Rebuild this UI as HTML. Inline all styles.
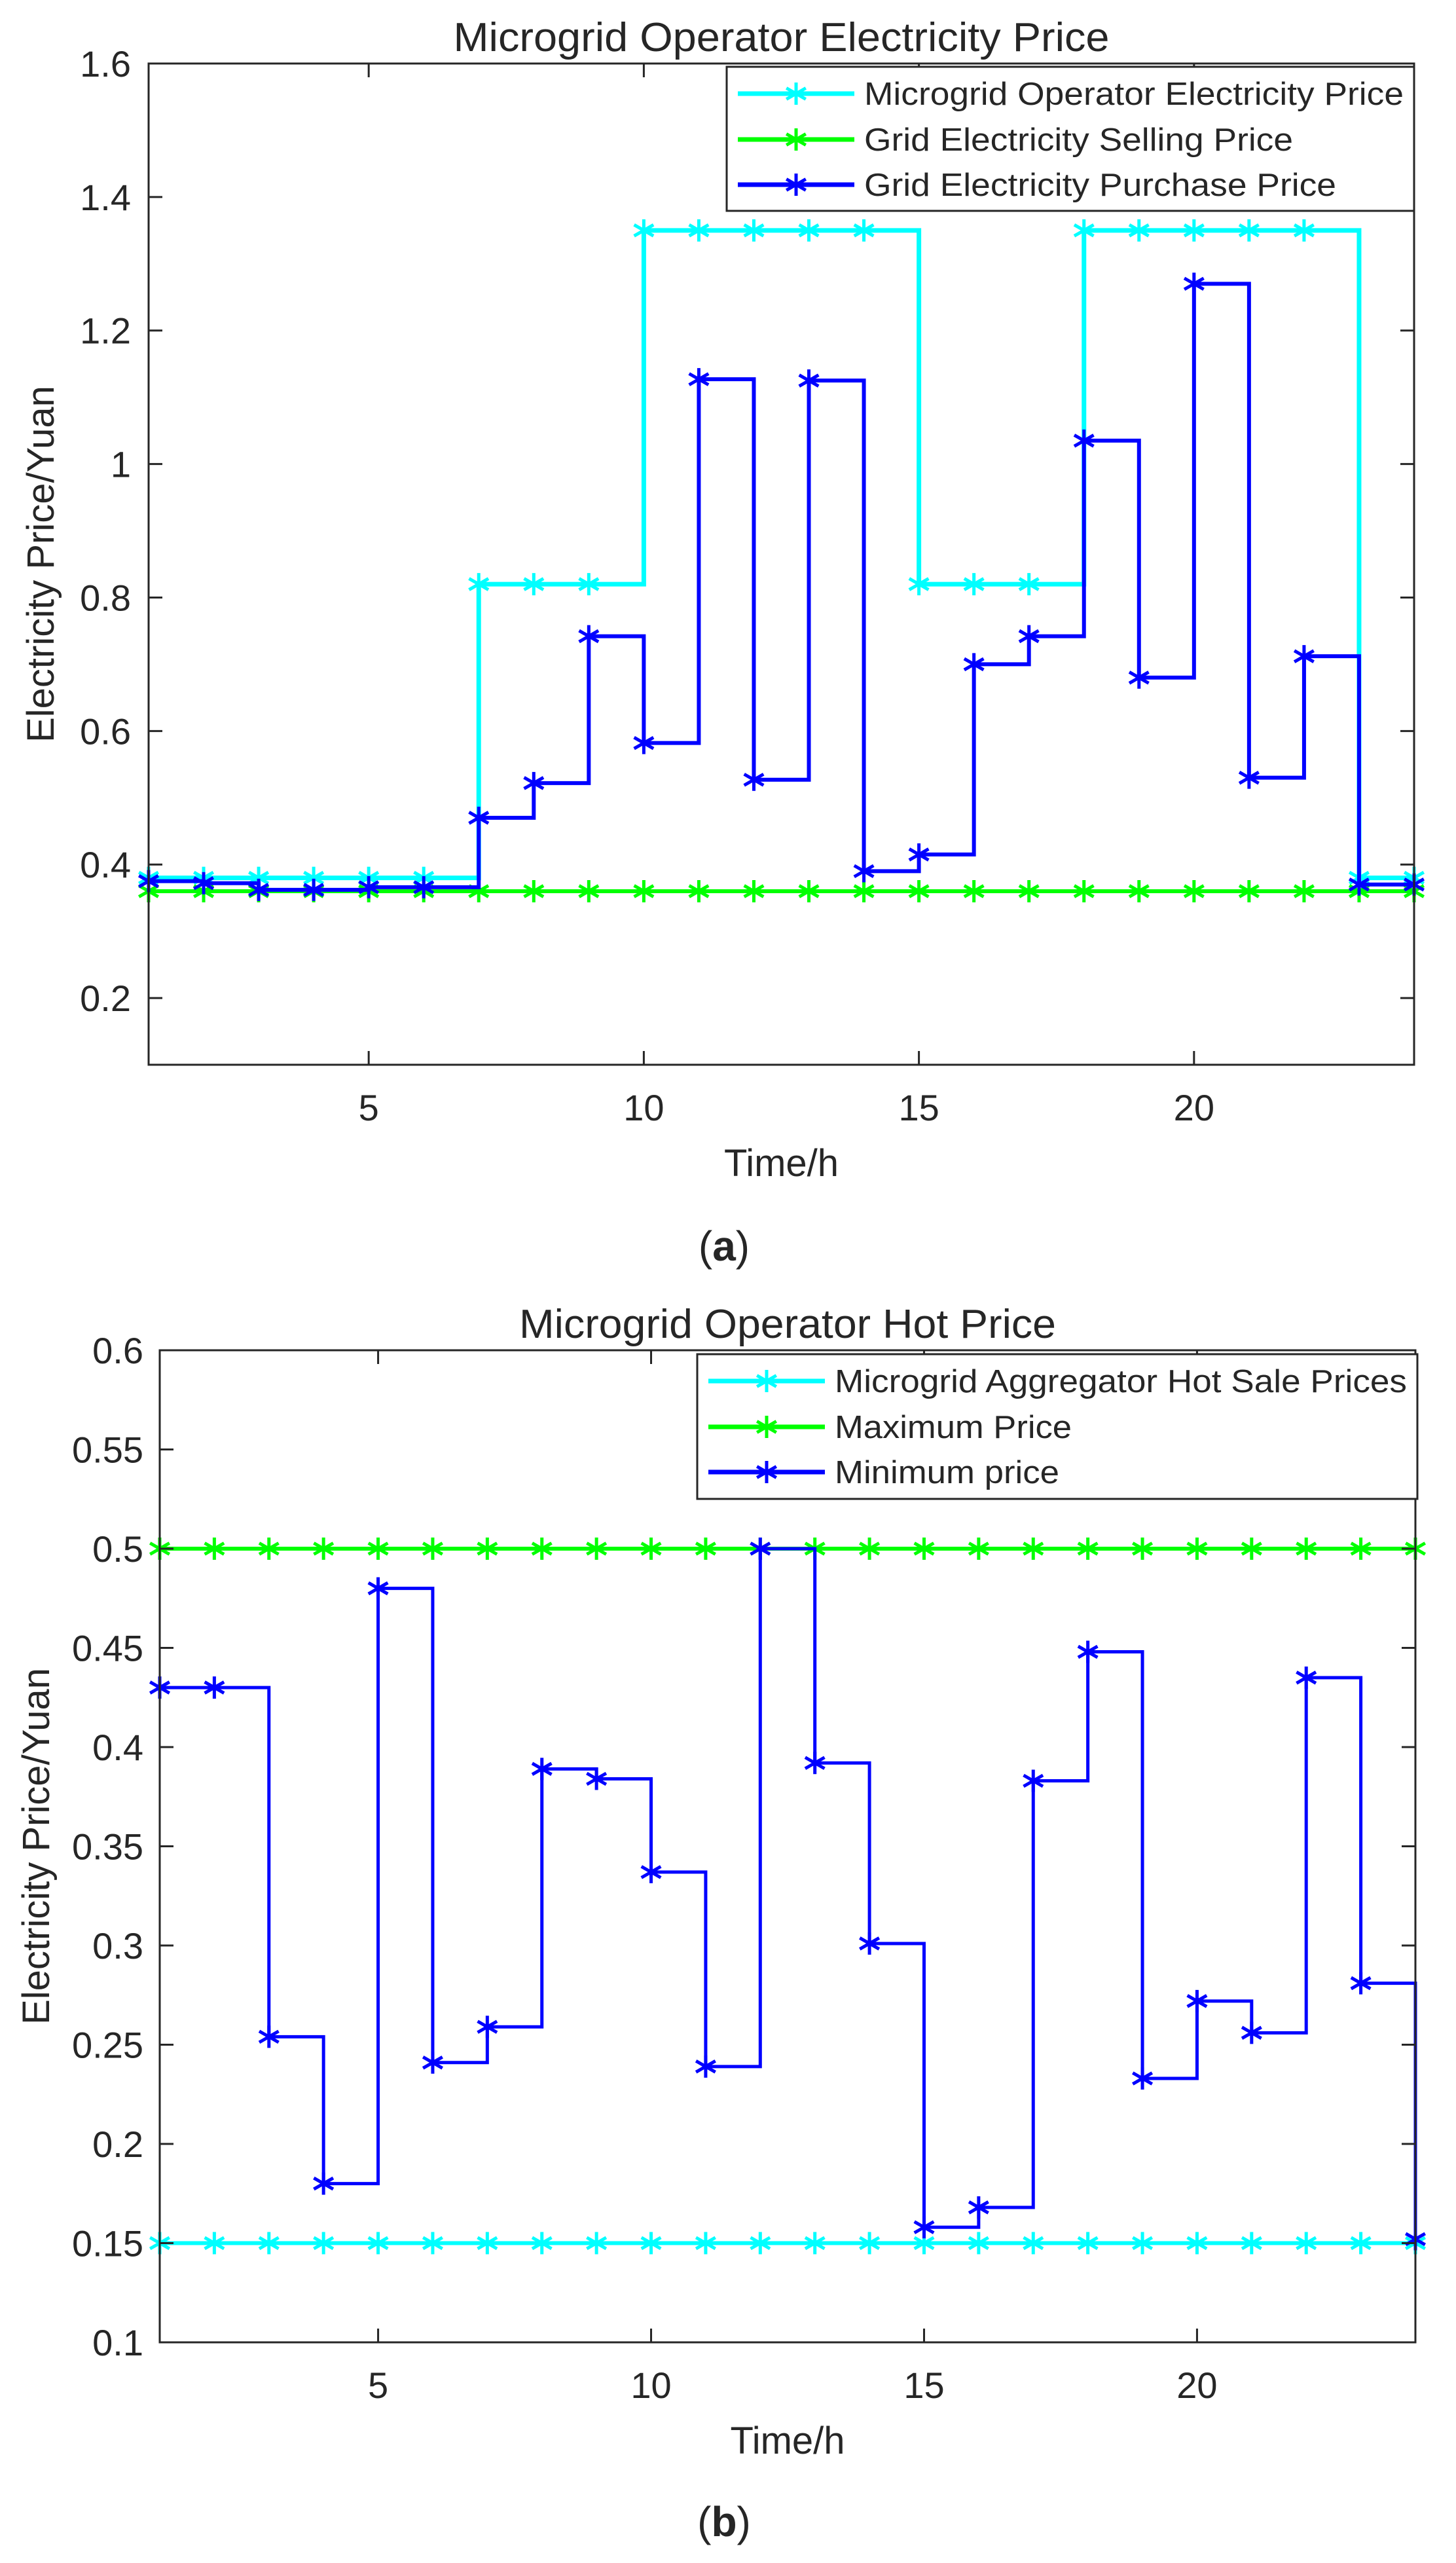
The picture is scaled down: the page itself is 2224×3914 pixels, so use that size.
<!DOCTYPE html>
<html><head><meta charset="utf-8"><style>
html,body{margin:0;padding:0;background:#fff}
svg{display:block}
text{font-family:"Liberation Sans",Arial,sans-serif;fill:#262626}
</style></head><body>
<svg id="fig" width="2224" height="3914" viewBox="0 0 2224 3914" xmlns="http://www.w3.org/2000/svg">
<rect width="2224" height="3914" fill="#fff"/>
</svg>
<script>
// ---- chart (a) data ----
const hoursA = [1,2,3,4,5,6,7,8,9,10,11,12,13,14,15,16,17,18,19,20,21,22,23,24];
const operatorPriceA = [0.38,0.38,0.38,0.38,0.38,0.38,0.82,0.82,0.82,1.35,1.35,1.35,1.35,1.35,0.82,0.82,0.82,1.35,1.35,1.35,1.35,1.35,0.38,0.38];
const sellingPriceA = [0.36,0.36,0.36,0.36,0.36,0.36,0.36,0.36,0.36,0.36,0.36,0.36,0.36,0.36,0.36,0.36,0.36,0.36,0.36,0.36,0.36,0.36,0.36,0.36];
const purchasePriceA = [0.375,0.372,0.362,0.362,0.366,0.366,0.47,0.522,0.742,0.582,1.127,0.527,1.125,0.39,0.415,0.70,0.742,1.035,0.68,1.27,0.53,0.712,0.37,0.37];
const yTicksA = [0.2,0.4,0.6,0.8,1.0,1.2,1.4,1.6];
const yTickLabelsA = ["0.2","0.4","0.6","0.8","1","1.2","1.4","1.6"];
const xTicks = [5,10,15,20];
const xTickLabels = ["5","10","15","20"];
const legendA = ["Microgrid Operator Electricity Price","Grid Electricity Selling Price","Grid Electricity Purchase Price"];
// ---- chart (b) data ----
const hoursB = [1,2,3,4,5,6,7,8,9,10,11,12,13,14,15,16,17,18,19,20,21,22,23,24];
const salePriceB = [0.15,0.15,0.15,0.15,0.15,0.15,0.15,0.15,0.15,0.15,0.15,0.15,0.15,0.15,0.15,0.15,0.15,0.15,0.15,0.15,0.15,0.15,0.15,0.15];
const maxPriceB = [0.5,0.5,0.5,0.5,0.5,0.5,0.5,0.5,0.5,0.5,0.5,0.5,0.5,0.5,0.5,0.5,0.5,0.5,0.5,0.5,0.5,0.5,0.5,0.5];
const minPriceB = [0.43,0.43,0.254,0.18,0.48,0.241,0.259,0.389,0.384,0.337,0.239,0.5,0.392,0.301,0.158,0.168,0.383,0.448,0.233,0.272,0.256,0.435,0.281,0.152];
const yTicksB = [0.1,0.15,0.2,0.25,0.3,0.35,0.4,0.45,0.5,0.55,0.6];
const yTickLabelsB = ["0.1","0.15","0.2","0.25","0.3","0.35","0.4","0.45","0.5","0.55","0.6"];
const legendB = ["Microgrid Aggregator Hot Sale Prices","Maximum Price","Minimum price"];

const NS="http://www.w3.org/2000/svg";
const svg=document.getElementById('fig');
function mk(tag,attrs,parent){const e=document.createElementNS(NS,tag);for(const k in attrs)e.setAttribute(k,attrs[k]);(parent||svg).appendChild(e);return e;}

function star(g,cx,cy,color,s){
  const r=s/2, dx=r*0.87, dy=r*0.5;
  const p=mk('path',{d:`M${cx},${cy-r}V${cy+r}M${cx-dx},${cy-dy}L${cx+dx},${cy+dy}M${cx-dx},${cy+dy}L${cx+dx},${cy-dy}`,stroke:color,'stroke-width':5,fill:'none'},g);
  
  
}

function chart(cfg){
  const g=mk('g',{});
  
  
  const X=h=>cfg.L+(h-1)*(cfg.R-cfg.L)/23;
  const Y=v=>cfg.T+(cfg.ymax-v)*(cfg.B-cfg.T)/(cfg.ymax-cfg.ymin);
  const t=mk('text',{x:(cfg.L+cfg.R)/2,y:cfg.titleY,'text-anchor':'middle','font-size':62,fill:'#000',textLength:cfg.titleW,lengthAdjust:'spacingAndGlyphs'},g);
  t.textContent=cfg.title;  
  cfg.series.forEach(s=>{
    let d=`M${X(s.x[0])},${Y(s.y[0])}`;
    for(let i=1;i<s.x.length;i++){d+=`H${X(s.x[i])}V${Y(s.y[i])}`;}
    const p=mk('path',{d:d,stroke:s.color,'stroke-width':s.w,fill:'none','stroke-linejoin':'miter'},g);
    
    
    for(let i=0;i<s.x.length;i++) star(g,X(s.x[i]),Y(s.y[i]),s.color,34);
  });
  const box=mk('rect',{x:cfg.L,y:cfg.T,width:cfg.R-cfg.L,height:cfg.B-cfg.T,fill:'none',stroke:'#262626','stroke-width':3},g);
   
  cfg.yt.forEach((v,i)=>{
    const y=Y(v);
    mk('path',{d:`M${cfg.L},${y}h21M${cfg.R},${y}h-21`,stroke:'#262626','stroke-width':3},g);
    const tx=mk('text',{x:cfg.ylabR,y:y+20,'text-anchor':'end','font-size':56},g);
    tx.textContent=cfg.ytl[i];  
  });
  xTicks.forEach((h,i)=>{
    const x=X(h);
    mk('path',{d:`M${x},${cfg.B}v-21M${x},${cfg.T}v21`,stroke:'#262626','stroke-width':3},g);
    const tx=mk('text',{x:x,y:cfg.B+85,'text-anchor':'middle','font-size':56},g);
    tx.textContent=xTickLabels[i];  
  });
  const xl=mk('text',{x:(cfg.L+cfg.R)/2,y:cfg.B+170,'text-anchor':'middle','font-size':58},g);
  xl.textContent='Time/h';  
  const yc=(cfg.T+cfg.B)/2;
  const yl=mk('text',{x:cfg.ylX,y:yc,'text-anchor':'middle','font-size':58,transform:`rotate(-90 ${cfg.ylX} ${yc})`},g);
  yl.textContent='Electricity Price/Yuan';  
  const lg=mk('g',{},g);
   
  mk('rect',{x:cfg.lg.x,y:cfg.lg.y,width:cfg.lg.w,height:cfg.lg.h,fill:'#fff',stroke:'#262626','stroke-width':3},lg);
  cfg.series.forEach((s,i)=>{
    const cy=cfg.lg.rows[i];
    const e=mk('g',{},lg);
     
    mk('path',{d:`M${cfg.lg.x+17},${cy}H${cfg.lg.x+195}`,stroke:s.color,'stroke-width':7},e);
    star(e,cfg.lg.x+106,cy,s.color,34);
    const tx=mk('text',{x:cfg.lg.x+210,y:cy+17,'font-size':49,fill:'#000',textLength:cfg.lg.tw[i],lengthAdjust:'spacingAndGlyphs'},e);
    tx.textContent=cfg.lg.labels[i];
  });
  const cap=mk('text',{x:1106,y:cfg.capY,'text-anchor':'middle','font-size':64,fill:'#000','font-family':'"Liberation Serif",serif'},g);
  cap.innerHTML='(<tspan font-weight="bold">'+cfg.cap+'</tspan>)';
   
}

chart({name:'chart-a',L:227,R:2160,T:97,B:1626,ymin:0.1,ymax:1.6,title:'Microgrid Operator Electricity Price',titleY:78,titleW:1002,
  yt:yTicksA,ytl:yTickLabelsA,ylabR:200,ylX:82,capY:1925,cap:'a',
  series:[{name:'operator-price-line',x:hoursA,y:operatorPriceA,color:'#00ffff',w:7},
          {name:'selling-price-line',x:hoursA,y:sellingPriceA,color:'#00ff00',w:6},
          {name:'purchase-price-line',x:hoursA,y:purchasePriceA,color:'#0000ff',w:6}],
  lg:{x:1110,y:102,w:1050,h:220,rows:[143,213,282],labels:legendA,tw:[824,655,721]}});

chart({name:'chart-b',L:244,R:2162,T:2062,B:3577,ymin:0.1,ymax:0.6,title:'Microgrid Operator Hot Price',titleY:2043,titleW:820,
  yt:yTicksB,ytl:yTickLabelsB,ylabR:219,ylX:75,capY:3873,cap:'b',
  series:[{name:'sale-price-line',x:hoursB,y:salePriceB,color:'#00ffff',w:6},
          {name:'maximum-price-line',x:hoursB,y:maxPriceB,color:'#00ff00',w:6},
          {name:'minimum-price-line',x:hoursB,y:minPriceB,color:'#0000ff',w:5}],
  lg:{x:1065,y:2068,w:1100,h:221,rows:[2109,2179,2248],labels:legendB,tw:[874,362,343]}});
</script>
</body></html>
